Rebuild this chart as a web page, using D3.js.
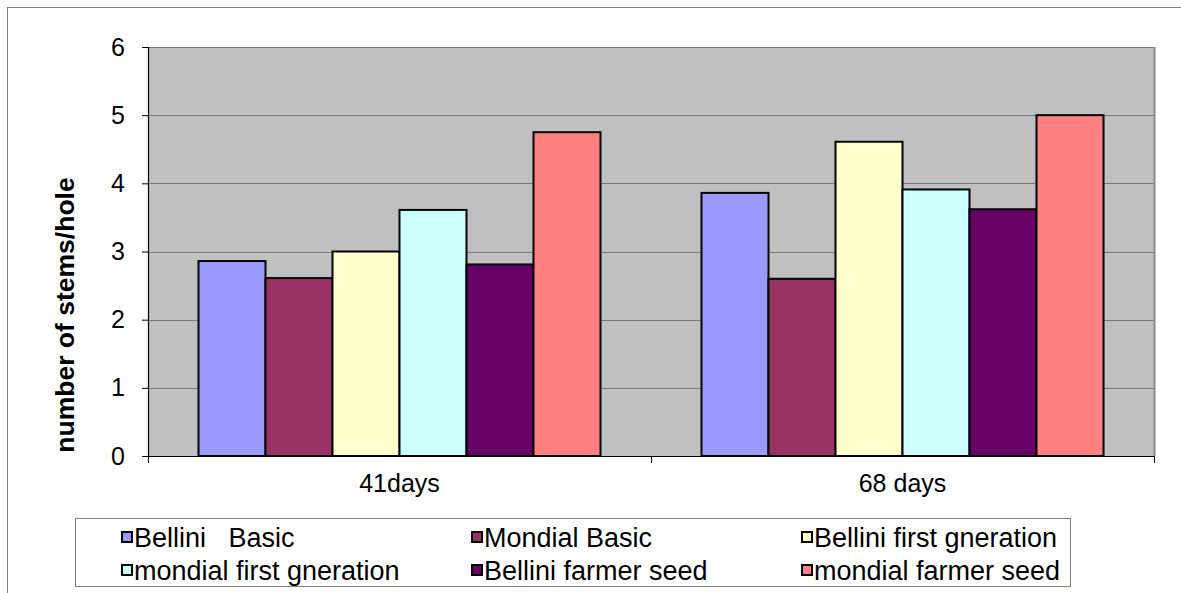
<!DOCTYPE html>
<html>
<head>
<meta charset="utf-8">
<script src="https://cdn.jsdelivr.net/npm/d3@7"></script>
<style>
  html, body { margin: 0; padding: 0; background: #fff; }
  svg { display: block; font-family: "Liberation Sans", Arial, sans-serif; }
</style>
</head>
<body>
<svg id="chart" width="1181" height="593"></svg>
<script>
const categories = ["41days", "68 days"];
const seriesNames = ["Bellini   Basic", "Mondial Basic", "Bellini first gneration", "mondial first gneration", "Bellini farmer seed", "mondial farmer seed"];
const seriesColors = ["#9999ff", "#993366", "#ffffcc", "#ccffff", "#660066", "#ff8080"];
const values41 = [2.86, 2.61, 3.0, 3.61, 2.81, 4.75];
const values68 = [3.86, 2.6, 4.61, 3.91, 3.62, 5.0];
const yTicks = [0, 1, 2, 3, 4, 5, 6];
const yTitle = "number of stems/hole";

const data = categories.map((c, i) => ({ cat: c, vals: [values41, values68][i] }));

const svg = d3.select("#chart");

// outer chart border
svg.append("rect").attr("x", 7.5).attr("y", 7.5).attr("width", 1190).attr("height", 600)
  .attr("fill", "none").attr("stroke", "#808080").attr("stroke-width", 1);

const L = 148, R = 1154, T = 47, B = 456;
const x0 = d3.scaleBand().domain(categories).range([L, R]);
const x1 = d3.scaleBand().domain(d3.range(seriesNames.length)).range([50.5, x0.bandwidth() - 50.5]);
const y = d3.scaleLinear().domain([0, 6]).range([B, T]);

// plot background
svg.append("rect").attr("x", L).attr("y", T).attr("width", R - L).attr("height", B - T).attr("fill", "#c0c0c0");

// gridlines
svg.append("g").selectAll("line").data(yTicks.filter(d => d > 0)).join("line")
  .attr("x1", L).attr("x2", R)
  .attr("y1", d => Math.round(y(d)) + 0.5).attr("y2", d => Math.round(y(d)) + 0.5)
  .attr("stroke", "#7a7a7a").attr("stroke-width", 1.2);

// right border of plot area
svg.append("line").attr("x1", R + 0.5).attr("x2", R + 0.5).attr("y1", T).attr("y2", B)
  .attr("stroke", "#8a8a8a").attr("stroke-width", 2);

// bars
const groups = svg.append("g").selectAll("g").data(data).join("g")
  .attr("transform", d => `translate(${x0(d.cat)},0)`);
groups.selectAll("rect").data(d => d.vals.map((v, i) => ({ v, i }))).join("rect")
  .attr("x", d => x1(d.i))
  .attr("y", d => y(d.v))
  .attr("width", x1.bandwidth())
  .attr("height", d => y(0) - y(d.v))
  .attr("fill", d => seriesColors[d.i])
  .attr("stroke", "#000").attr("stroke-width", 2);

// y axis
const yAxis = d3.axisLeft(y).tickValues(yTicks).tickSize(6).tickPadding(17).tickFormat(d3.format("d"));
const gy = svg.append("g").attr("transform", `translate(${L},0)`).call(yAxis);
gy.select(".domain").attr("stroke", "#000").attr("stroke-width", 1.2);
gy.selectAll(".tick line").attr("stroke", "#000");
gy.selectAll(".tick text").attr("font-size", 25).attr("fill", "#000")
  .attr("font-family", "Liberation Sans, Arial, sans-serif");

// x axis
const xAxis = d3.axisBottom(x0).tickSize(0).tickPadding(18);
const gx = svg.append("g").attr("transform", `translate(0,${B})`).call(xAxis);
gx.select(".domain").attr("stroke", "#000").attr("stroke-width", 1.2);
gx.selectAll(".tick text").attr("font-size", 25).attr("fill", "#000")
  .attr("font-family", "Liberation Sans, Arial, sans-serif");
// category separator ticks
const sepX = [L, x0(categories[1]), R];
gx.selectAll(".sep").data(sepX).join("line").attr("class", "sep")
  .attr("x1", d => d + 0.5).attr("x2", d => d + 0.5).attr("y1", 0).attr("y2", 7)
  .attr("stroke", "#000");

// y title
svg.append("text")
  .attr("transform", `translate(74,315) rotate(-90)`)
  .attr("text-anchor", "middle").attr("font-size", 26.5).attr("font-weight", "bold")
  .text(yTitle);

// legend
const lg = svg.append("g");
lg.append("rect").attr("x", 75.5).attr("y", 518.5).attr("width", 995).attr("height", 68)
  .attr("fill", "#fff").attr("stroke", "#808080");
const colX = [121, 471, 801];
const rowY = [537, 570];
const items = lg.selectAll("g").data(seriesNames).join("g")
  .attr("transform", (d, i) => `translate(${colX[i % 3]},${rowY[Math.floor(i / 3)]})`);
items.append("rect").attr("x", 1).attr("y", -5).attr("width", 10).attr("height", 10)
  .attr("fill", (d, i) => seriesColors[i]).attr("stroke", "#000").attr("stroke-width", 2);
items.append("text").attr("x", 13).attr("y", 9.5).attr("font-size", 27)
  .attr("xml:space", "preserve").style("white-space", "pre")
  .text(d => d);
</script>
</body>
</html>
